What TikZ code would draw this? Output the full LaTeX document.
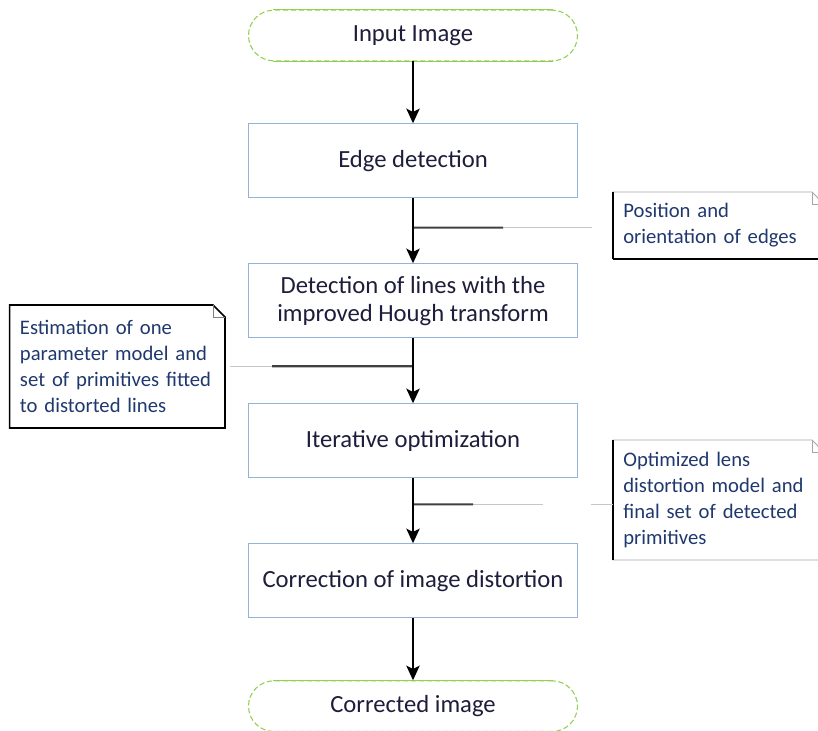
\documentclass[tikz,border=0pt]{standalone}
\usepackage{fontspec}
\setmainfont{Carlito}
\usetikzlibrary{arrows.meta,positioning,calc}

\definecolor{boxblue}{RGB}{149,179,215}
\definecolor{termgreen}{RGB}{146,208,80}
\definecolor{boxtext}{RGB}{30,30,60}
\definecolor{notetext}{RGB}{31,56,110}

\begin{document}
\begin{tikzpicture}[x=0.75pt,y=-0.75pt,->,>={Stealth[length=11pt,width=10pt,inset=2.5pt]},auto,node distance=105pt,
                    line width=1.5pt,
                    stepnode/.style={rectangle, draw=boxblue, fill=white, line width=0.8pt, minimum width=246.75pt,
                                     minimum height=55.5pt, align=center, text=boxtext, font=\fontsize{18.5}{21}\selectfont},
                    termnode/.style={stepnode, draw=termgreen, rounded corners=19pt, minimum height=38pt,
                                     dash pattern=on 4pt off 2pt},
                    notenode/.style={rectangle, draw=none, align=left, text=notetext, inner xsep=7pt,
                                     font=\fontsize{15.5}{19.5}\selectfont},
                    branch/.style={-, gray!45, line width=1pt},
                    branchdark/.style={-, black!75, line width=1.6pt}]
  \useasboundingbox (0,0) rectangle (818,731);

  % main flow
  \node[termnode]                                         (input)     at (413,35.5) {Input Image};
  \node[stepnode, node distance=94pt]                     (edge)      [below of=input] {Edge detection};
  \node[stepnode]                                         (lines)     [below of=edge]  {Detection of lines with the\\improved Hough transform};
  \node[stepnode]                                         (optim)     [below of=lines] {Iterative optimization};
  \node[stepnode]                                         (correct)   [below of=optim] {Correction of image distortion};
  \node[termnode, node distance=94pt]                     (corrected) [below of=correct] {Corrected image};

  % solid top and bottom edges of the end boxes
  \foreach \t in {input,corrected}{
    \draw[-, termgreen, line width=0.8pt] ([xshift=19pt]\t.north west) -- ([xshift=-19pt]\t.north east);
    \draw[-, termgreen, line width=0.8pt] ([xshift=19pt]\t.south west) -- ([xshift=-19pt]\t.south east);
  }

  % notes
  \node[notenode, anchor=west, text width=142.75pt, minimum height=48.75pt] (posnote) at (613,225.5)
       {Position and\\orientation of edges};
  \node[notenode, anchor=east, text width=146pt, minimum height=90.75pt]    (estnote) at (225,366.5)
       {Estimation of one\\parameter model and\\set of primitives fitted\\to distorted lines};
  \node[notenode, anchor=west, text width=142.75pt, minimum height=88.5pt]  (optnote) at (613,500)
       {Optimized lens\\distortion model and\\final set of detected\\primitives};

  \foreach \n in {posnote,optnote}{
    \draw[-, gray!70, line width=0.6pt] (\n.north west) -- ([xshift=-9pt]\n.north east) -- ([yshift=-9pt]\n.north east)
        -- (\n.south east) -- (\n.south west) -- cycle;
    \draw[-, gray!70, line width=0.6pt] ([xshift=-9pt]\n.north east) |- ([yshift=-9pt]\n.north east);
    \draw[-, black, line width=1.6pt] (\n.north west) -- (\n.south west);
  }
  \draw[-, black, line width=1.6pt] (posnote.south west) -- (posnote.south east);
  \draw[-, black, line width=1.2pt] (estnote.north west) -- ([xshift=-9pt]estnote.north east) -- ([yshift=-9pt]estnote.north east)
      -- (estnote.south east) -- (estnote.south west) -- cycle;
  \draw[-, gray, line width=0.6pt] ([xshift=-9pt]estnote.north east) |- ([yshift=-9pt]estnote.north east);

  % branches to the notes
  \coordinate (b1) at ($(edge.south)!0.45!(lines.north)$);
  \coordinate (b2) at ($(lines.south)!0.43!(optim.north)$);
  \coordinate (b3) at ($(optim.south)!0.40!(correct.north)$);
  \draw[branch, shorten >=16pt] (b1) -- (b1 -| posnote.west);
  \draw[branchdark] (b1) -- ($(b1)!0.45!(b1 -| posnote.west)$);
  \draw[branch, shorten >=4pt] (b2) -- (b2 -| estnote.east);
  \draw[branchdark] (b2) -- ($(b2)!0.75!(b2 -| estnote.east)$);
  \draw[branch, dash pattern=on 97.5pt off 36pt on 20pt] (b3) -- (b3 -| optnote.west);
  \draw[branchdark] (b3) -- ($(b3)!0.3!(b3 -| optnote.west)$);

  % arrows
  \path (input)   edge (edge)
        (edge)    edge (lines)
        (lines)   edge (optim)
        (optim)   edge (correct)
        (correct) edge (corrected);
\end{tikzpicture}
\end{document}
